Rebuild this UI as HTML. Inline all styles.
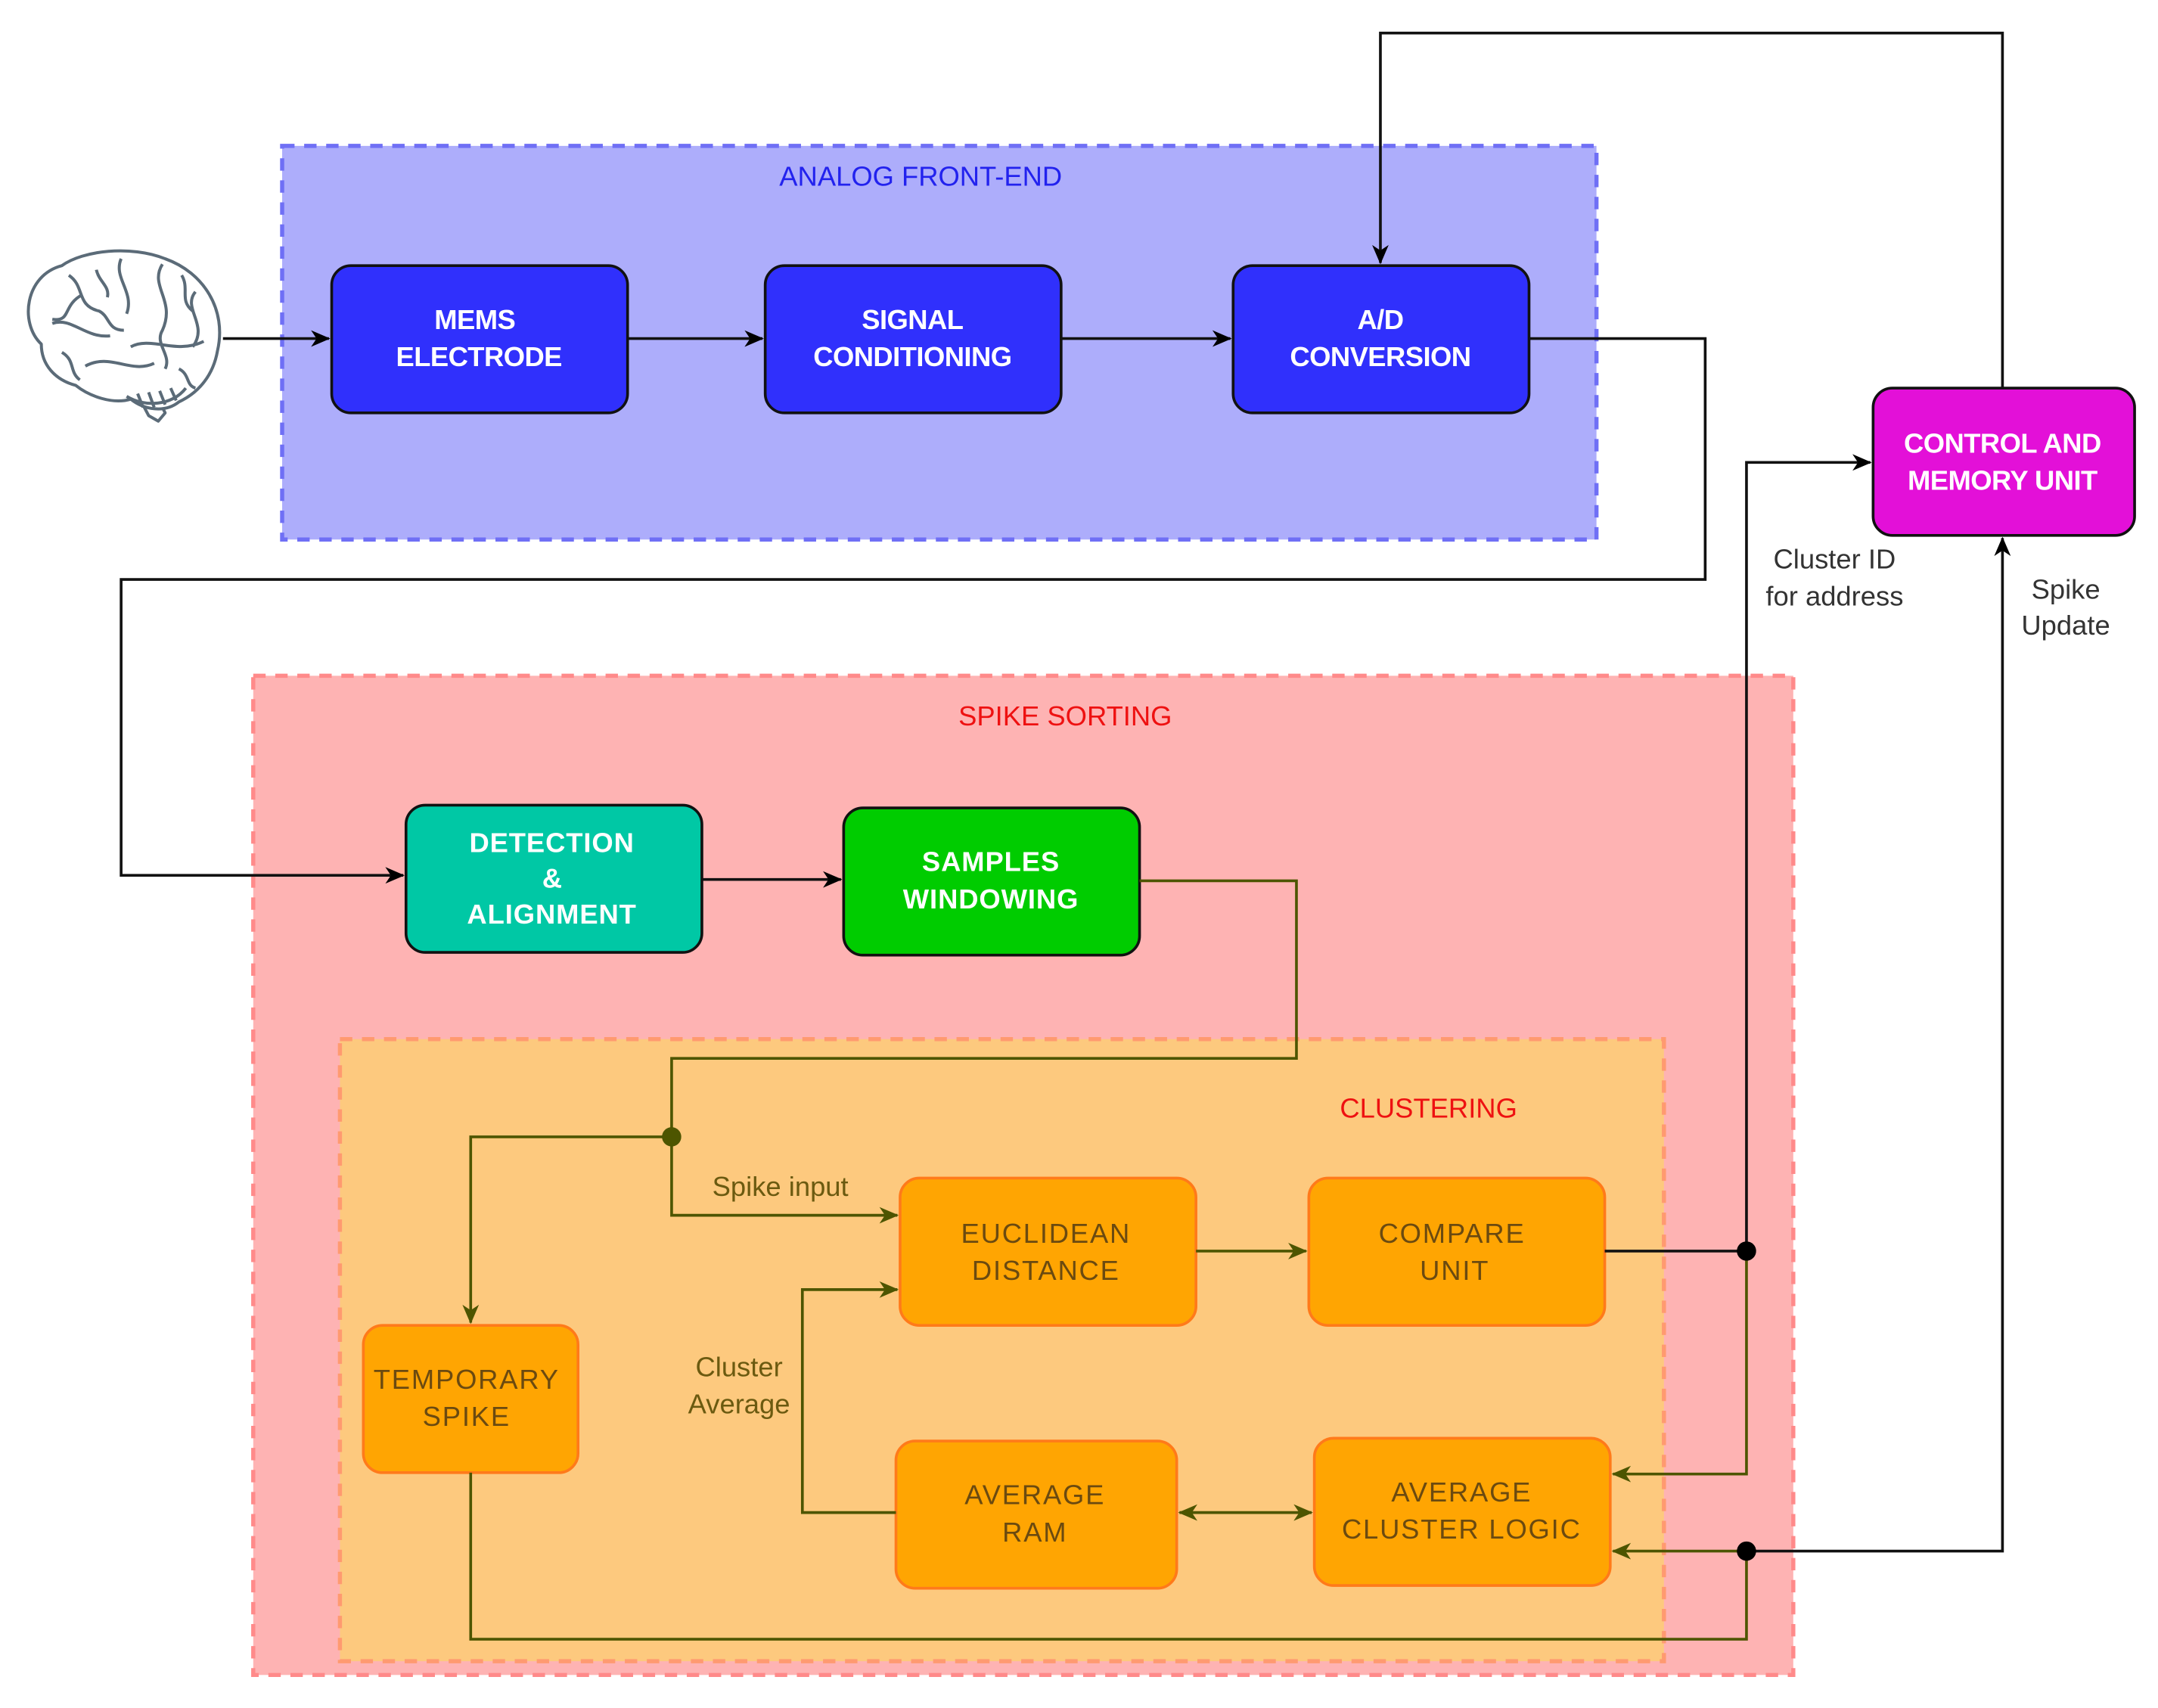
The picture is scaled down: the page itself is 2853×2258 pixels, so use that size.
<!DOCTYPE html>
<html><head><meta charset="utf-8"><style>
html,body{margin:0;padding:0;background:#fff;}
svg{display:block;}
text{font-family:"Liberation Sans",sans-serif;}
</style></head><body>
<svg width="2853" height="2258" viewBox="0 0 1568 1241" xmlns="http://www.w3.org/2000/svg">
<defs>
<marker id="ab" markerWidth="14" markerHeight="14" refX="13" refY="7" orient="auto" markerUnits="userSpaceOnUse"><path d="M0,1 L14,7 L0,13 L4,7 z" fill="#000"/></marker>
<marker id="ao" markerWidth="14" markerHeight="14" refX="13" refY="7" orient="auto" markerUnits="userSpaceOnUse"><path d="M0,1 L14,7 L0,13 L4,7 z" fill="#4d5500"/></marker>
<marker id="aos" markerWidth="14" markerHeight="14" refX="1" refY="7" orient="auto" markerUnits="userSpaceOnUse"><path d="M14,1 L0,7 L14,13 L10,7 z" fill="#4d5500"/></marker>
</defs>
<rect width="1568" height="1241" fill="#fff"/>
<rect x="205" y="106" width="955" height="286" fill="#adadfb" stroke="#6f6ff5" stroke-width="3" stroke-dasharray="9,7"/>
<text x="669" y="135" font-size="20" fill="#2222ee" text-anchor="middle">ANALOG FRONT-END</text>
<rect x="184" y="491" width="1119" height="726" fill="#feb3b3" stroke="#ff8a8a" stroke-width="3" stroke-dasharray="9,7"/>
<text x="774" y="527" font-size="20" fill="#ee1111" text-anchor="middle">SPIKE SORTING</text>
<rect x="247" y="755" width="962" height="452" fill="#fdc97e" stroke="#ff9a70" stroke-width="3" stroke-dasharray="9,7"/>
<text x="1038" y="812" font-size="20" fill="#ee1111" text-anchor="middle">CLUSTERING</text>

<!-- Brain -->
<g fill="#fff" stroke="#5b6b78" stroke-width="2.2" stroke-linejoin="round">
<path d="M98,283 L108,302 L115,306 L120,300 L112,284"/>
<path d="M30,250 C14,235 18,200 45,193 C60,182 95,178 120,188 C148,198 165,225 158,255 C155,272 145,285 130,292 C120,300 105,298 95,290 C82,294 65,288 55,280 C40,276 30,265 30,250 z"/>
<path d="M92,288 C105,296 125,295 135,282" fill="none"/>
<path d="M100,286 L104,296 M108,285 L112,296 M116,284 L120,294 M124,282 L128,291" fill="none"/>
<path d="M50,200 C62,208 55,222 72,226 C80,230 78,240 90,240 M88,188 C82,202 98,212 92,228 M118,192 C108,208 128,218 118,240 C112,250 125,258 120,268 M38,235 C52,230 62,246 80,244 M95,252 C110,244 128,258 148,248 M62,266 C80,256 95,272 112,264 M142,212 C132,224 152,236 140,252 M60,214 C45,222 52,234 38,232 M70,196 C72,205 80,208 78,216 M132,200 C138,210 130,218 140,226 M45,256 C55,262 50,270 58,276 M130,268 C138,272 135,280 142,282" fill="none"/>
</g>

<g stroke="#111" stroke-width="2">
<rect x="241" y="193" width="215" height="107" rx="14" fill="#3030fc"/>
<rect x="556" y="193" width="215" height="107" rx="14" fill="#3030fc"/>
<rect x="896" y="193" width="215" height="107" rx="14" fill="#3030fc"/>
<rect x="1361" y="282" width="190" height="107" rx="14" fill="#e310d8"/>
<rect x="295" y="585" width="215" height="107" rx="14" fill="#00c8a5"/>
<rect x="613" y="587" width="215" height="107" rx="14" fill="#00cc00"/>
</g>
<g fill="#fff" font-weight="900" font-size="20" text-anchor="middle" letter-spacing="-0.3">
<text x="345" y="239">MEMS</text><text x="348" y="266">ELECTRODE</text>
<text x="663" y="239">SIGNAL</text><text x="663" y="266">CONDITIONING</text>
<text x="1003" y="239">A/D</text><text x="1003" y="266">CONVERSION</text>
<text x="1455" y="329">CONTROL AND</text><text x="1455" y="356">MEMORY UNIT</text>
<text x="401" y="619" letter-spacing="0.5">DETECTION</text><text x="401" y="645">&amp;</text><text x="401" y="671" letter-spacing="0.5">ALIGNMENT</text>
<text x="720" y="633" letter-spacing="0.5">SAMPLES</text><text x="720" y="660" letter-spacing="0.5">WINDOWING</text>
</g>

<g fill="#ffa502" stroke="#ff7a1a" stroke-width="2">
<rect x="654" y="856" width="215" height="107" rx="14"/>
<rect x="951" y="856" width="215" height="107" rx="14"/>
<rect x="264" y="963" width="156" height="107" rx="14"/>
<rect x="651" y="1047" width="204" height="107" rx="14"/>
<rect x="955" y="1045" width="215" height="107" rx="14"/>
</g>
<g fill="#6b4a10" font-size="20" text-anchor="middle" letter-spacing="1">
<text x="760" y="903">EUCLIDEAN</text><text x="760" y="930">DISTANCE</text>
<text x="1055" y="903">COMPARE</text><text x="1057" y="930">UNIT</text>
<text x="339" y="1009">TEMPORARY</text><text x="339" y="1036">SPIKE</text>
<text x="752" y="1093">AVERAGE</text><text x="752" y="1120">RAM</text>
<text x="1062" y="1091">AVERAGE</text><text x="1062" y="1118">CLUSTER LOGIC</text>
</g>

<g fill="none" stroke="#111" stroke-width="2">
<path d="M162,246 H239" marker-end="url(#ab)"/>
<path d="M456,246 H554" marker-end="url(#ab)"/>
<path d="M771,246 H894" marker-end="url(#ab)"/>
<path d="M1111,246 H1239 V421 H88 V636 H293" marker-end="url(#ab)"/>
<path d="M1455,282 V24 H1003 V191" marker-end="url(#ab)"/>
<path d="M510,639 H611" marker-end="url(#ab)"/>
<path d="M1166,909 H1269 V336 H1359" marker-end="url(#ab)"/>
<path d="M1269,1127 H1455 V391" marker-end="url(#ab)"/>
</g>
<g fill="none" stroke="#4d5500" stroke-width="2">
<path d="M828,640 H942 V769 H488 V826"/>
<path d="M488,826 H342 V961" marker-end="url(#ao)"/>
<path d="M488,826 V883 H652" marker-end="url(#ao)"/>
<path d="M869,909 H949" marker-end="url(#ao)"/>
<path d="M651,1099 H583 V937 H652" marker-end="url(#ao)"/>
<path d="M857,1099 H953" marker-end="url(#ao)" marker-start="url(#aos)"/>
<path d="M1269,909 V1071 H1172" marker-end="url(#ao)"/>
<path d="M342,1070 V1191 H1269 V1127 H1172" marker-end="url(#ao)"/>
</g>
<circle cx="488" cy="826" r="7" fill="#4d5500"/>
<circle cx="1269" cy="909" r="7" fill="#000"/>
<circle cx="1269" cy="1127" r="7" fill="#000"/>

<g font-size="20" text-anchor="middle">
<text x="567" y="869" fill="#6b5a10">Spike input</text>
<text x="537" y="1000" fill="#6b5a10">Cluster</text><text x="537" y="1027" fill="#6b5a10">Average</text>
<text x="1333" y="413" fill="#333">Cluster ID</text><text x="1333" y="440" fill="#333">for address</text>
<text x="1501" y="435" fill="#333">Spike</text><text x="1501" y="461" fill="#333">Update</text>
</g>
</svg>
</body></html>
